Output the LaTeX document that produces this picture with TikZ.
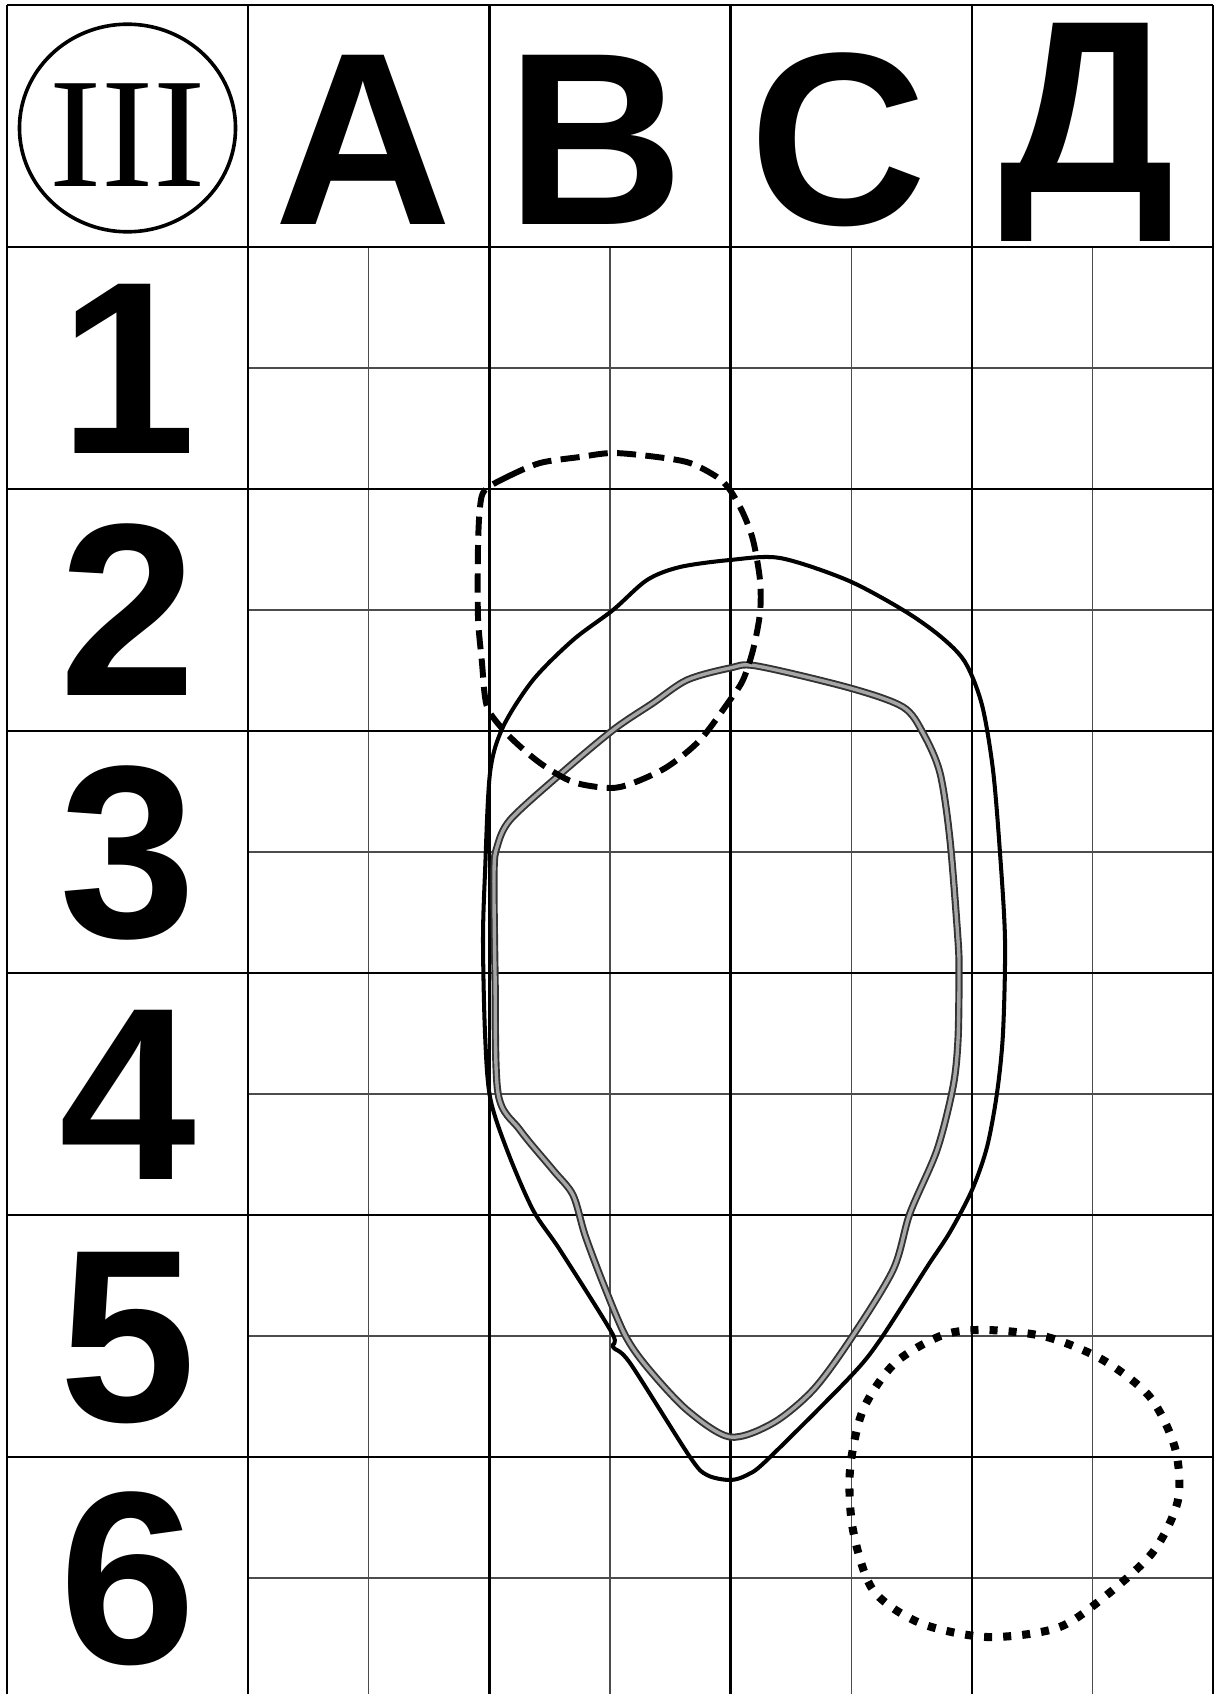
\documentclass[tikz,border=0pt]{standalone}
\usepackage{fontspec}
\newfontfamily\sansbold{Liberation Sans}
\newfontfamily\serifnum{Liberation Serif}
\usetikzlibrary{shapes.geometric}
\tikzset{
    majorline/.style={line width=0.6pt, draw=black},
    minorline/.style={line width=0.3pt, draw=black!70},
    bigletter/.style={inner sep=0pt, anchor=base, font=\sansbold\bfseries\fontsize{58}{60}\selectfont},
    rowdigit/.style={bigletter},
    ring/.style={ellipse, draw, line width=0.85pt, minimum width=1.79cm, minimum height=1.72cm, inner sep=0pt},
    romanlabel/.style={inner sep=0pt, anchor=base, font=\serifnum\fontsize{37}{40}\selectfont},
    zonesolid/.style={line width=0.95pt, line join=round},
    zonedashed/.style={line width=1.4pt, dash pattern=on 4.5pt off 2.2pt},
    zonedotted/.style={line width=1.9pt, dash pattern=on 1.9pt off 2.6pt},
    zonegrey/.style={line width=0.45pt, draw=black!80, double=black!35, double distance=0.8pt}
}
\begin{document}
\begin{tikzpicture}[x=0.0082816cm, y=-0.0082816cm]
    \useasboundingbox (0,0) rectangle (1214,1694);

    % fine grid
    \foreach \x in {368.8,610,851.2,1092.4}
        \draw[minorline] (\x,247) -- (\x,1694);
    \foreach \y in {368,610,852,1094,1336,1578}
        \draw[minorline] (248.2,\y) -- (1213,\y);
    % main grid
    \foreach \x in {7,248.2,489.4,730.6,971.8,1213}
        \draw[majorline] (\x,5) -- (\x,1694);
    \foreach \y in {5,247,489,731,973,1215,1457}
        \draw[majorline] (7,\y) -- (1213,\y);

    % header
    \node[ring] (ring) at (127.5,128) {};
    \node[romanlabel] (roman) at (127.5,186) {III};
    \node[bigletter] (colA) at (363,224) {А};
    \node[bigletter] (colB) at (595,224) {В};
    \node[bigletter] (colC) at (838,224) {С};
    \node[bigletter] (colD) at (1087,192) {Д};

    % row numbers
    \foreach \r in {1,...,6}
        \node[rowdigit] (row\r) at (127.5,{211+242*\r}) {\r};

    % zones
    \draw[zonegrey] plot[smooth cycle, tension=0.5] coordinates {
        (757,666) (850,688) (903,707) (923,733) (940,773) (950,840) (958,940)
        (959,973) (958,1040) (953,1087) (937,1150) (910,1213) (893,1270)
        (850,1340) (813,1390) (773,1423) (730,1437) (687,1410) (647,1367)
        (625,1335) (603,1283) (585,1235) (573,1195) (553,1170) (520,1130)
        (498,1093) (495,973) (494,873) (497,847) (510,820) (557,777)
        (613,730) (653,703) (687,680) (730,668)};
    \draw[zonesolid] plot[smooth cycle, tension=0.5] coordinates {
        (730,560) (780,558) (847,580) (903,610) (940,636) (965,662) (982,705)
        (993,770) (1000,853) (1005,940) (1003,1033) (997,1093) (987,1147)
        (972,1190) (950,1232) (927,1267) (880,1340) (850,1377) (767,1460)
        (747,1475) (730,1480) (707,1475) (690,1457) (630,1363) (613,1347)
        (612,1333) (560,1250) (533,1210) (507,1150) (490,1097) (485,1033)
        (483,940) (485,873) (490,773) (503,727) (533,680) (573,640) (613,610)
        (647,580) (680,567)};
    \draw[zonedashed] plot[smooth cycle, tension=0.5] coordinates {
        (485,490) (507,477) (540,463) (580,457) (613,453) (657,457) (690,463)
        (717,477) (730,490) (743,513) (753,540) (760,580) (760,613) (753,650)
        (743,680) (730,700) (700,740) (667,767) (633,783) (610,788) (573,782)
        (540,763) (510,737) (490,713) (485,697) (482,663) (478,617) (478,547)
        (480,507)};
    \draw[zonedotted] plot[smooth cycle, tension=0.5] coordinates {
        (987,1330) (1047,1337) (1103,1360) (1150,1397) (1175,1448) (1178,1500)
        (1153,1552) (1103,1598) (1057,1628) (987,1637) (920,1623) (873,1590)
        (853,1530) (850,1470) (863,1410) (895,1363) (943,1335)};
\end{tikzpicture}
\end{document}
